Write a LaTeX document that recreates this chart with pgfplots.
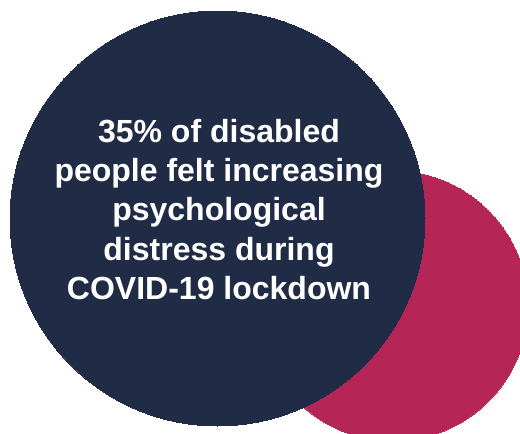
\documentclass[border=0pt]{standalone}
\usepackage{pgfplots}
\pgfplotsset{compat=1.18}
\usepackage{fontspec}
\setmainfont{Liberation Sans}
\definecolor{navy}{HTML}{202B45}
\definecolor{crimson}{HTML}{B52555}
\begin{document}
\begin{tikzpicture}
\begin{axis}[
  width=520pt, height=434pt, scale only axis,
  xmin=0, xmax=520, ymin=0, ymax=434, y dir=reverse,
  hide axis, clip=true,
]
% circles: centre (x,y) in pixel units, radius as mark size
\addplot[crimson, only marks, mark=*, mark size=135pt, mark options={draw=crimson, fill=crimson, line width=0pt}] coordinates {(393,306)};
\addplot[navy, only marks, mark=*, mark size=207.5pt, mark options={draw=navy, fill=navy, line width=0pt}] coordinates {(217.5,218.5)};
\coordinate (t1) at (axis cs:219,142.5);
\coordinate (t2) at (axis cs:219,181.5);
\coordinate (t3) at (axis cs:219,221);
\coordinate (t4) at (axis cs:219,260.5);
\coordinate (t5) at (axis cs:219,300);
\end{axis}
\tikzset{lbl/.style={anchor=base, text=white, font=\fontsize{32pt}{38pt}\selectfont\bfseries, inner sep=0pt}}
\node[lbl] at (t1) {35\% of disabled};
\node[lbl] at (t2) {people felt increasing};
\node[lbl] at (t3) {psychological};
\node[lbl] at (t4) {distress during};
\node[lbl] at (t5) {COVID-19 lockdown};
\pgfresetboundingbox
\useasboundingbox (current axis.south west) rectangle (current axis.north east);
\end{tikzpicture}
\end{document}
